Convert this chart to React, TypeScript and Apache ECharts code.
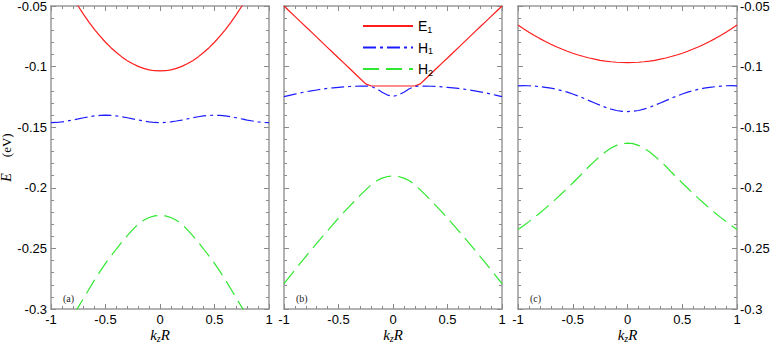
import React, { useEffect, useRef } from "react";
import * as echarts from "echarts";

// k_z R sample points
const K = [-1, -0.95, -0.9, -0.85, -0.8, -0.75, -0.7, -0.65, -0.6, -0.55, -0.5, -0.45, -0.4, -0.35, -0.3, -0.25, -0.2, -0.15, -0.1, -0.05, 0,
  0.05, 0.1, 0.15, 0.2, 0.25, 0.3, 0.35, 0.4, 0.45, 0.5, 0.55, 0.6, 0.65, 0.7, 0.75, 0.8, 0.85, 0.9, 0.95, 1];

// Panel (a)
const E1_a = [-0.0086, -0.0179, -0.0267, -0.0350, -0.0428, -0.0502, -0.0571, -0.0635, -0.0694, -0.0749, -0.0799, -0.0844, -0.0884, -0.0920, -0.0951, -0.0977, -0.0998, -0.1015, -0.1027, -0.1034, -0.1036,
  -0.1034, -0.1027, -0.1015, -0.0998, -0.0977, -0.0951, -0.0920, -0.0884, -0.0844, -0.0799, -0.0749, -0.0694, -0.0635, -0.0571, -0.0502, -0.0428, -0.0350, -0.0267, -0.0179, -0.0086];
const H1_a = [-0.1462, -0.1461, -0.1456, -0.1449, -0.1441, -0.1432, -0.1422, -0.1414, -0.1407, -0.1403, -0.1401, -0.1403, -0.1407, -0.1414, -0.1422, -0.1432, -0.1441, -0.1449, -0.1456, -0.1461, -0.1462,
  -0.1461, -0.1456, -0.1449, -0.1441, -0.1432, -0.1422, -0.1414, -0.1407, -0.1403, -0.1401, -0.1403, -0.1407, -0.1414, -0.1422, -0.1432, -0.1441, -0.1449, -0.1456, -0.1461, -0.1462];
const H2_a = [-0.3360, -0.3285, -0.3210, -0.3135, -0.3060, -0.2985, -0.2910, -0.2835, -0.2760, -0.2690, -0.2623, -0.2563, -0.2505, -0.2448, -0.2395, -0.2345, -0.2300, -0.2268, -0.2245, -0.2232, -0.2227,
  -0.2232, -0.2245, -0.2268, -0.2300, -0.2345, -0.2395, -0.2448, -0.2505, -0.2563, -0.2623, -0.2690, -0.2760, -0.2835, -0.2910, -0.2985, -0.3060, -0.3135, -0.3210, -0.3285, -0.3360];

// Panel (b)
const E1_b = [-0.0500, -0.0543, -0.0586, -0.0629, -0.0671, -0.0714, -0.0757, -0.0800, -0.0843, -0.0886, -0.0929, -0.0971, -0.1014, -0.1057, -0.1100, -0.1143,
  -0.1160, -0.1160, -0.1160, -0.1160, -0.1160, -0.1160, -0.1160, -0.1160, -0.1160,
  -0.1143, -0.1100, -0.1057, -0.1014, -0.0971, -0.0929, -0.0886, -0.0843, -0.0800, -0.0757, -0.0714, -0.0671, -0.0629, -0.0586, -0.0543, -0.0500];
const H1_b = [-0.1248, -0.1237, -0.1227, -0.1217, -0.1208, -0.1200, -0.1193, -0.1186, -0.1180, -0.1175, -0.1171, -0.1167, -0.1164, -0.1162, -0.1161, -0.1160, -0.1164, -0.1183, -0.1211, -0.1235, -0.1245,
  -0.1235, -0.1211, -0.1183, -0.1164, -0.1160, -0.1161, -0.1162, -0.1164, -0.1167, -0.1171, -0.1175, -0.1180, -0.1186, -0.1193, -0.1200, -0.1208, -0.1217, -0.1227, -0.1237, -0.1248];
const H2_b = [-0.2790, -0.2734, -0.2678, -0.2622, -0.2567, -0.2512, -0.2458, -0.2405, -0.2353, -0.2301, -0.2250, -0.2201, -0.2153, -0.2107, -0.2061, -0.2017, -0.1975, -0.1942, -0.1920, -0.1907, -0.1902,
  -0.1907, -0.1920, -0.1942, -0.1975, -0.2017, -0.2061, -0.2107, -0.2153, -0.2201, -0.2250, -0.2301, -0.2353, -0.2405, -0.2458, -0.2512, -0.2567, -0.2622, -0.2678, -0.2734, -0.2790];

// Panel (c)
const E1_c = [-0.0657, -0.0687, -0.0716, -0.0743, -0.0769, -0.0793, -0.0815, -0.0836, -0.0855, -0.0873, -0.0890, -0.0904, -0.0917, -0.0929, -0.0939, -0.0948, -0.0955, -0.0960, -0.0964, -0.0966, -0.0967,
  -0.0966, -0.0964, -0.0960, -0.0955, -0.0948, -0.0939, -0.0929, -0.0917, -0.0904, -0.0890, -0.0873, -0.0855, -0.0836, -0.0815, -0.0793, -0.0769, -0.0743, -0.0716, -0.0687, -0.0657];
const H1_c = [-0.1159, -0.1157, -0.1158, -0.1161, -0.1166, -0.1171, -0.1178, -0.1187, -0.1198, -0.1211, -0.1226, -0.1243, -0.1261, -0.1281, -0.1300, -0.1319, -0.1336, -0.1351, -0.1362, -0.1369, -0.1371,
  -0.1369, -0.1362, -0.1351, -0.1336, -0.1319, -0.1300, -0.1281, -0.1261, -0.1243, -0.1226, -0.1211, -0.1198, -0.1187, -0.1178, -0.1171, -0.1166, -0.1161, -0.1158, -0.1157, -0.1159];
const H2_c = [-0.2345, -0.2313, -0.2279, -0.2244, -0.2208, -0.2170, -0.2130, -0.2089, -0.2047, -0.2004, -0.1960, -0.1915, -0.1870, -0.1822, -0.1780, -0.1740, -0.1703, -0.1672, -0.1650, -0.1636, -0.1632,
  -0.1636, -0.1650, -0.1672, -0.1703, -0.1740, -0.1780, -0.1822, -0.1870, -0.1915, -0.1960, -0.2004, -0.2047, -0.2089, -0.2130, -0.2170, -0.2208, -0.2244, -0.2279, -0.2313, -0.2345];

const PANELS = [
  { tag: "(a)", E1: E1_a, H1: H1_a, H2: H2_a },
  { tag: "(b)", E1: E1_b, H1: H1_b, H2: H2_b },
  { tag: "(c)", E1: E1_c, H1: H1_c, H2: H2_c },
];

const X_MIN = -1, X_MAX = 1, X_STEP = 0.5;
const Y_MIN = -0.3, Y_MAX = -0.05, Y_STEP = 0.05;

const GRIDS = [
  { left: 51, top: 6, width: 218, height: 303 },
  { left: 284, top: 6, width: 218, height: 303 },
  { left: 518, top: 6, width: 219, height: 303 },
];

const STYLE: Record<string, any> = {
  E1: { color: "#ff1c1c", type: "solid" },
  H1: { color: "#1c1cff", type: [13, 4, 3, 4] },
  H2: { color: "#2fe82f", type: [16, 7] },
};

const AX_COLOR = "#9a9a9a";
const SANS = "'Liberation Sans', Arial, sans-serif";
const SERIF = "'Liberation Serif', 'Times New Roman', serif";

function baseAxis(gridIndex: number, position: string, showLabel: boolean) {
  return {
    type: "value",
    gridIndex,
    position,
    nameMoveOverlap: false,
    axisLine: { show: true, onZero: false, lineStyle: { color: AX_COLOR, width: 1.5 } },
    axisTick: { show: true, inside: true, length: 5, lineStyle: { color: "#8a8a8a", width: 1 } },
    minorTick: { show: true, splitNumber: 5, length: 3, lineStyle: { color: "#8a8a8a", width: 1 } },
    splitLine: { show: false },
    minorSplitLine: { show: false },
    axisLabel: { show: showLabel, color: "#000", fontSize: 13, fontFamily: SANS, margin: 6 },
  };
}

export default function App() {
  const ref = useRef<HTMLDivElement>(null);
  useEffect(() => {
    if (!ref.current) return;
    const chart = echarts.init(ref.current, undefined, { renderer: "svg" });
    const xAxis: any[] = [];
    const yAxis: any[] = [];
    const series: any[] = [];
    const graphic: any[] = [];
    PANELS.forEach((p, i) => {
      const bottom: any = { ...baseAxis(i, "bottom", true), min: X_MIN, max: X_MAX, interval: X_STEP };
      bottom.axisLabel = { ...bottom.axisLabel, margin: 4 };
      bottom.name = "{i|k}{s|z}{i|R}";
      bottom.nameLocation = "middle";
      bottom.nameGap = 18;
      bottom.nameTextStyle = {
        rich: {
          i: { fontFamily: SERIF, fontStyle: "italic", fontSize: 15, lineHeight: 16, verticalAlign: "middle", color: "#000" },
          s: { fontFamily: SERIF, fontStyle: "italic", fontSize: 10, lineHeight: 6, verticalAlign: "bottom", color: "#000" },
        },
      };
      xAxis.push(bottom);
      xAxis.push({ ...baseAxis(i, "top", false), min: X_MIN, max: X_MAX, interval: X_STEP });
      const left: any = { ...baseAxis(i, "left", i === 0), min: Y_MIN, max: Y_MAX, interval: Y_STEP };
      const right: any = { ...baseAxis(i, "right", i === 2), min: Y_MIN, max: Y_MAX, interval: Y_STEP };
      left.axisLabel = { ...left.axisLabel, margin: 4 };
      right.axisLabel = { ...right.axisLabel, margin: 3 };
      if (i === 0) {
        left.name = "{i|E}{g|(eV)}";
        left.nameLocation = "middle";
        left.nameRotate = 90;
        left.nameGap = 38;
        left.nameTextStyle = {
          rich: {
            i: { fontFamily: SERIF, fontStyle: "italic", fontSize: 14, color: "#000" },
            g: { fontFamily: SERIF, fontSize: 13, color: "#000", padding: [0, 0, 0, 16] },
          },
        };
      }
      yAxis.push(left);
      yAxis.push(right);
      (["E1", "H1", "H2"] as const).forEach((name) => {
        const vals = (p as any)[name] as number[];
        series.push({
          type: "line",
          name,
          xAxisIndex: i * 2,
          yAxisIndex: i * 2,
          symbol: "none",
          showSymbol: false,
          clip: true,
          lineStyle: { color: STYLE[name].color, width: 1.2, type: STYLE[name].type },
          itemStyle: { color: STYLE[name].color },
          data: K.map((k, j) => [k, vals[j]]),
        });
      });
      graphic.push({
        type: "text",
        left: GRIDS[i].left + 12,
        top: 293,
        style: { text: p.tag, fontFamily: SERIF, fontSize: 10, fill: "#222" },
      });
    });

    chart.setOption({
      animation: false,
      backgroundColor: "#fff",
      grid: GRIDS.map((g) => ({ ...g, containLabel: false, outerBoundsMode: "none" })),
      xAxis,
      yAxis,
      series,
      graphic,
      legend: {
        data: ["E1", "H1", "H2"],
        orient: "vertical",
        left: 357,
        top: 14,
        itemWidth: 50,
        itemHeight: 14,
        itemGap: 6.5,
        itemStyle: { opacity: 0 },
        formatter: (n: string) => `{m|${n[0]}}{s|${n[1]}}`,
        textStyle: {
          color: "#000",
          rich: {
            m: { fontFamily: SANS, fontSize: 14, lineHeight: 16, verticalAlign: "middle", color: "#000" },
            s: { fontFamily: SANS, fontSize: 9, lineHeight: 6, verticalAlign: "bottom", color: "#000" },
          },
        },
      },
    });
    return () => chart.dispose();
  }, []);
  return (
    <div
      ref={ref}
      style={{ position: "absolute", left: 0, top: 0, width: 770, height: 342, background: "#fff" }}
    />
  );
}
